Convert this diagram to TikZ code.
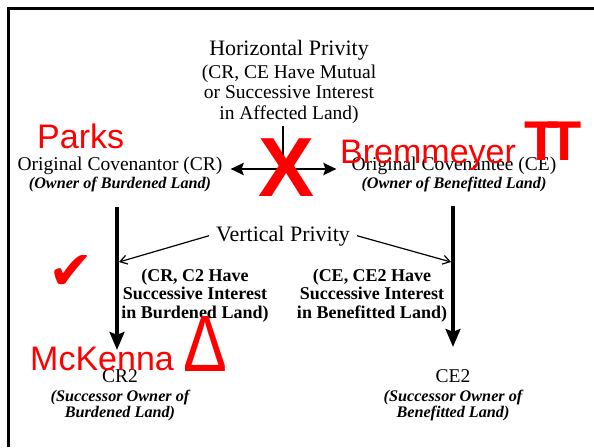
\documentclass[tikz,border=0pt]{standalone}
\usepackage{fontspec}
\setmainfont{Liberation Serif}
\newfontfamily\notefont{Liberation Sans}
\newfontfamily\symfont{DejaVu Sans}
\usetikzlibrary{positioning,arrows.meta}
\definecolor{NoteRed}{HTML}{FF0000}

\begin{document}
\begin{tikzpicture}[
  x=1pt, y=-1pt,
  node distance=2.5pt and 2.5pt,
  heading/.style={font=\fontsize{22}{24}\selectfont, inner sep=0pt},
  maintext/.style={font=\fontsize{19.5}{20.5}\selectfont, align=center, inner sep=0pt},
  owner/.style={font=\fontsize{16.2}{16.5}\selectfont\bfseries\itshape, align=center, inner sep=0pt},
  interest/.style={font=\fontsize{18}{18.5}\selectfont\bfseries, align=center, inner sep=0pt},
  note/.style={text=NoteRed, font=\notefont\fontsize{34}{36}\selectfont, inner sep=0pt},
  bigarrow/.style={-{Stealth[length=18pt,width=15pt,inset=3pt]}, line width=3.2pt},
  duoarrow/.style={{Stealth[length=13pt,width=12pt,inset=2pt]}-{Stealth[length=13pt,width=12pt,inset=2pt]}, line width=2.6pt},
  thinarrow/.style={-{Straight Barb[length=7pt,width=9pt]}, line width=1.2pt}
]
\useasboundingbox (0,0) rectangle (594,447);
\draw[line width=2.8pt] (8.5,447) -- (8.5,8.5) -- (594,8.5);

% horizontal privity
\node[heading, anchor=base] (horiz) at (289,55) {Horizontal Privity};
\node[maintext, anchor=base] (horizsub) at (289,119) {(CR, CE Have Mutual\\or Successive Interest\\in Affected Land)};

% original parties
\node[maintext, anchor=base] (cr) at (120,170) {Original Covenantor (CR)};
\node[owner, below=of cr] (crown) {(Owner of Burdened Land)};
\node[maintext, anchor=base] (ce) at (454,170) {Original Covenantee (CE)};
\node[owner, below=of ce] (ceown) {(Owner of Benefitted Land)};

% vertical privity
\node[heading, anchor=base, inner xsep=7pt, inner ysep=3pt] (vert) at (283,241) {Vertical Privity};
\node[interest, anchor=base] (crint) at (195,318) {(CR, C2 Have\\Successive Interest\\in Burdened Land)};
\node[interest, anchor=base] (ceint) at (372,318) {(CE, CE2 Have\\Successive Interest\\in Benefitted Land)};

% successors
\node[maintext, anchor=base] (cr2) at (120,382) {CR2};
\node[owner, below=7pt of cr2] (cr2own) {(Successor Owner of\\Burdened Land)};
\node[maintext, anchor=base] (ce2) at (453,382) {CE2};
\node[owner, below=7pt of ce2] (ce2own) {(Successor Owner of\\Benefitted Land)};

\coordinate (hjoin) at (283,169);
\coordinate (crhit) at (119,262);
\coordinate (cehit) at (451,262);

\draw[line width=2pt] ([yshift=-3pt]horizsub.south -| hjoin) -- (hjoin);
\draw[duoarrow, shorten <=8pt, shorten >=15pt] (cr.east |- hjoin) -- (ce.west |- hjoin);
\draw[bigarrow] ([shift={(-3pt,-15pt)}]crown.south) -- ([shift={(-3pt,19pt)}]cr2.north);
\draw[bigarrow] ([shift={(-1pt,-13.5pt)}]ceown.south) -- ([shift={(0pt,22pt)}]ce2.north);
\draw[thinarrow] (vert.west) -- (crhit);
\draw[thinarrow] (vert.east) -- (cehit);

% red remarks
\node[note, anchor=base west] (parks) at (37,148) {Parks};
\node[note, anchor=base west] (bremmeyer) at (340,163) {Bremmeyer};
\node[note, anchor=base, font=\notefont\bfseries\fontsize{56}{60}\selectfont] (twin) at (553,160) {T\kern-11pt T};
\node[note, font=\notefont\bfseries\fontsize{84}{90}\selectfont] (cross) at (287,168) {X};
\node[note, font=\symfont\fontsize{54}{56}\selectfont] (tick) at (71,272) {✔};
\node[note, anchor=base west] (mckenna) at (30,370) {McKenna};
\node[note, anchor=base, font=\notefont\fontsize{80}{84}\selectfont] (delta) at (205,371) {\scalebox{0.82}[1]{Δ}};
\end{tikzpicture}
\end{document}
